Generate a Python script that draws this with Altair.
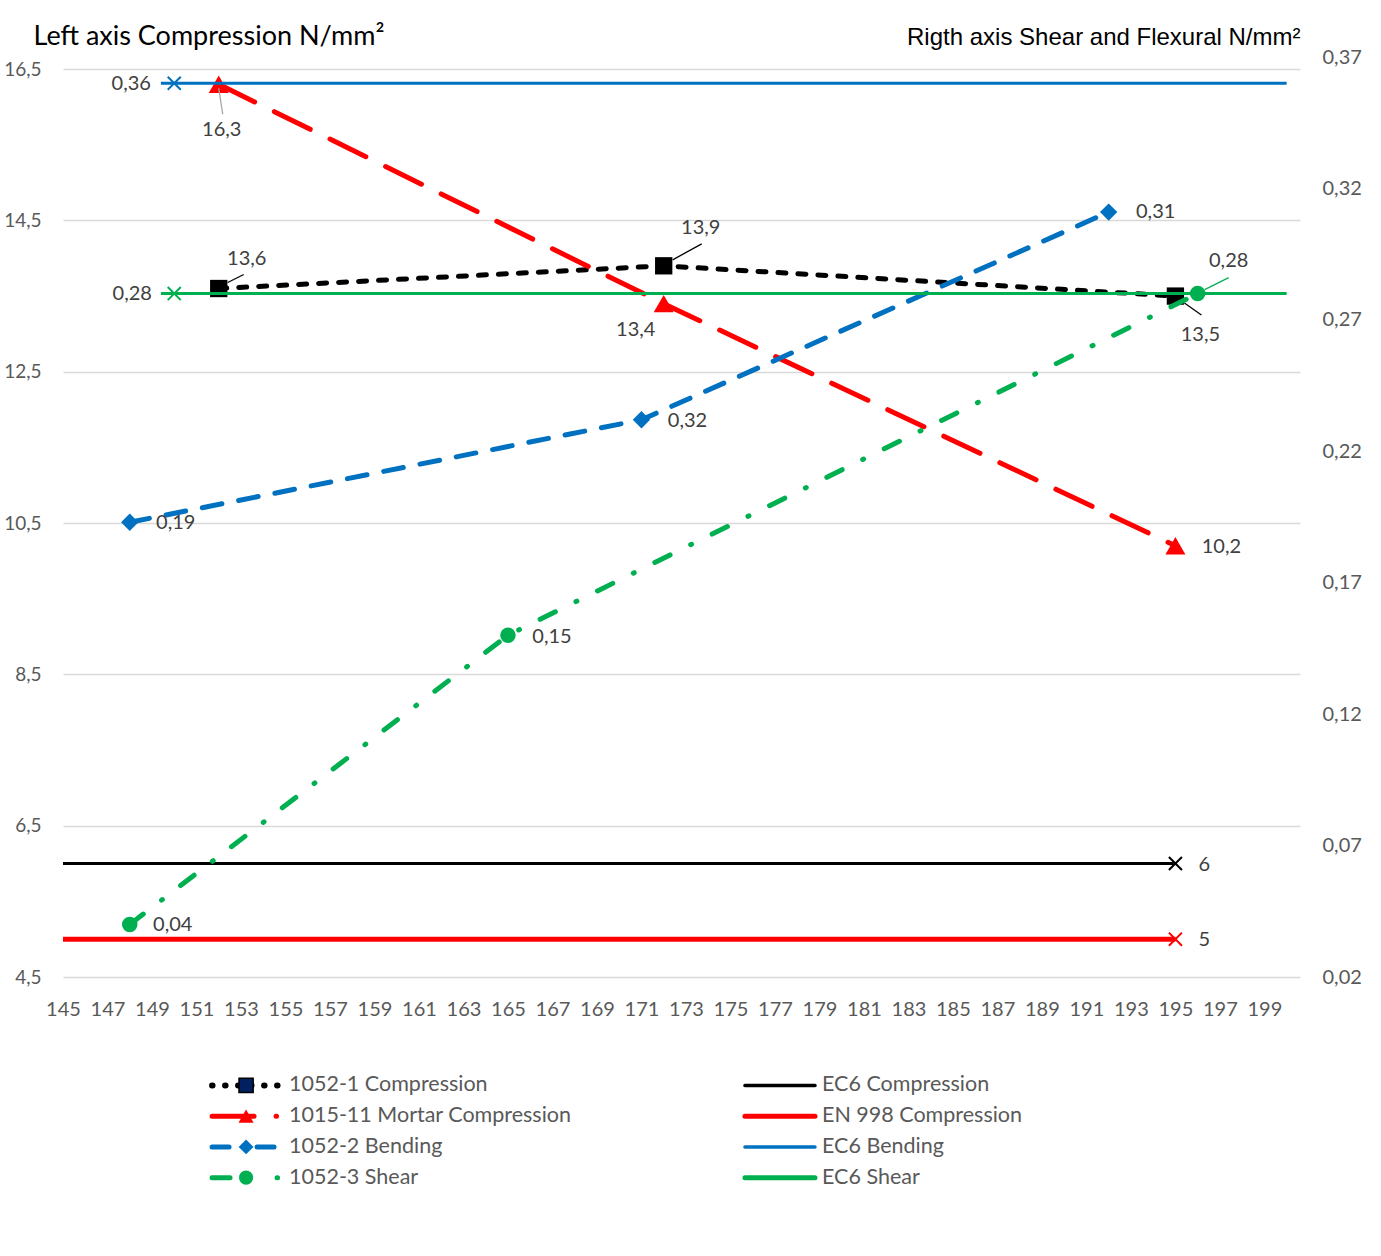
import altair as alt
import pandas as pd

# ---------------- data ----------------
x_ticks = list(range(145, 200, 2))
left_ticks = [4.5, 6.5, 8.5, 10.5, 12.5, 14.5, 16.5]
right_ticks = [0.02, 0.07, 0.12, 0.17, 0.22, 0.27, 0.32, 0.37]

# left axis series (Compression, N/mm2)
c1_x = [152, 172, 195]
c1_y = [13.6, 13.9, 13.5]
c1_lbl = ["13,6", "13,9", "13,5"]

m11_x = [152, 172, 195]
m11_y = [16.3, 13.4, 10.2]
m11_lbl = ["16,3", "13,4", "10,2"]

ec6c_x = [145, 195]
ec6c_y = [6, 6]
ec6c_lbl = ["", "6"]

en998_x = [145, 195]
en998_y = [5, 5]
en998_lbl = ["", "5"]

# right axis series (Shear and Flexural, N/mm2)
b2_x = [148, 171, 192]
b2_y = [0.193, 0.232, 0.311]
b2_lbl = ["0,19", "0,32", "0,31"]

s3_x = [148, 165, 196]
s3_y = [0.040, 0.150, 0.280]
s3_lbl = ["0,04", "0,15", "0,28"]

ec6b_x = [149.4, 200]
ec6b_y = [0.36, 0.36]
ec6b_mx = [150]
ec6b_my = [0.36]
ec6b_lbl = ["0,36"]

ec6s_x = [149.4, 200]
ec6s_y = [0.28, 0.28]
ec6s_mx = [150]
ec6s_my = [0.28]
ec6s_lbl = ["0,28"]

legend_names = [
    "1052-1 Compression", "1015-11 Mortar Compression", "1052-2 Bending", "1052-3 Shear",
    "EC6 Compression", "EN 998 Compression", "EC6 Bending", "EC6 Shear",
]

# ---------------- styles ----------------
FONT = "Lato"
BLACK = "#000000"
RED = "#FF0000"
BLUE = "#0070C0"
GREEN = "#00B050"
XSHAPE = "M-1,-1L1,1M-1,1L1,-1"
W, H = 1237, 920

LABEL_EXPR_L = "replace(format(datum.value, '.1f'), '.', ',')"
LABEL_EXPR_R = "replace(format(datum.value, '.2f'), '.', ',')"

XENC = alt.X(
    "x:Q",
    scale=alt.Scale(domain=[145, 200.6], nice=False, zero=False),
    axis=alt.Axis(values=x_ticks, grid=False, domain=False, ticks=False,
                  labelFont=FONT, labelFontSize=20, labelColor="#595959",
                  labelPadding=22, title=None, labelFlush=False, labelOverlap=False),
)
YL = alt.Y(
    "y:Q",
    scale=alt.Scale(domain=[4.5, 16.66], nice=False, zero=False),
    axis=alt.Axis(values=left_ticks, grid=True, gridColor="#d9d9d9", gridWidth=1.5,
                  domain=False, ticks=False, labelExpr=LABEL_EXPR_L,
                  labelFont=FONT, labelFontSize=19, labelColor="#595959", labelPadding=22,
                  title="Left axis Compression N/mm²", titleAngle=0, titleAlign="left",
                  titleBaseline="middle", titleX=-30, titleY=-21, titleFont=FONT,
                  titleFontSize=27, titleFontWeight="normal", titleColor="#000000",
                  orient="left"),
)
YR = alt.Y(
    "y:Q",
    scale=alt.Scale(domain=[0.02, 0.37], nice=False, zero=False),
    axis=alt.Axis(values=right_ticks, grid=False, domain=False, ticks=False,
                  labelExpr=LABEL_EXPR_R, labelFont=FONT, labelFontSize=20,
                  labelColor="#595959", labelPadding=22,
                  title="Rigth axis Shear and Flexural N/mm²", titleAngle=0,
                  titleAlign="right", titleBaseline="middle", titleX=0, titleY=-20,
                  titleFont="Liberation Sans", titleFontSize=24, titleFontWeight="normal",
                  titleColor="#000000", orient="right"),
)


def frame(xs, ys, lbls=None):
    d = pd.DataFrame({"x": xs, "y": ys})
    if lbls is not None:
        d["lbl"] = lbls
    return d


def line(d, y, **kw):
    return alt.Chart(d).mark_line(**kw).encode(x=XENC, y=y)


def pts(d, y, **kw):
    return alt.Chart(d).mark_point(opacity=1, **kw).encode(x=XENC, y=y)


def label(d, y, i, dx, dy):
    return alt.Chart(d.iloc[[i]]).mark_text(
        dx=dx, dy=dy, fontSize=20, font=FONT, color="#404040",
        align="center", baseline="middle",
    ).encode(x=XENC, y=y, text="lbl:N")


def leader(d, y, i, o, color):
    return alt.Chart(d.iloc[[i]]).mark_rule(
        color=color, strokeWidth=1.3,
        xOffset=o[0], yOffset=o[1], x2Offset=o[2], y2Offset=o[3],
    ).encode(x=XENC, y=y, x2=alt.X2("x"), y2=alt.Y2("y"))


c1 = frame(c1_x, c1_y, c1_lbl)
m11 = frame(m11_x, m11_y, m11_lbl)
ec6c = frame(ec6c_x, ec6c_y, ec6c_lbl)
en998 = frame(en998_x, en998_y, en998_lbl)
b2 = frame(b2_x, b2_y, b2_lbl)
s3 = frame(s3_x, s3_y, s3_lbl)
ec6b = frame(ec6b_x, ec6b_y)
ec6b_m = frame(ec6b_mx, ec6b_my, ec6b_lbl)
ec6s = frame(ec6s_x, ec6s_y)
ec6s_m = frame(ec6s_mx, ec6s_my, ec6s_lbl)

left_layers = [
    line(ec6c, YL, color=BLACK, strokeWidth=3),
    line(en998, YL, color=RED, strokeWidth=5),
    pts(ec6c.iloc[[1]], YL, shape=XSHAPE, filled=False, color=BLACK, strokeWidth=2, size=170),
    pts(en998.iloc[[1]], YL, shape=XSHAPE, filled=False, color=RED, strokeWidth=2, size=170),
    line(c1, YL, color=BLACK, strokeWidth=5, strokeDash=[8, 12], strokeCap="round"),
    pts(c1, YL, shape="square", filled=True, color=BLACK, size=300),
    line(m11, YL, color=RED, strokeWidth=5, strokeDash=[40, 22], strokeCap="round"),
    pts(m11, YL, shape="triangle-up", filled=True, color=RED, size=400),
    leader(c1, YL, 0, (9, -6, 25, -14), BLACK),
    leader(c1, YL, 1, (9, -6, 38, -22), BLACK),
    leader(c1, YL, 2, (9, 7, 26, 19), BLACK),
    leader(m11, YL, 0, (0, 4, 4, 30), "#a6a6a6"),
    label(c1, YL, 0, 28, -30),
    label(c1, YL, 1, 37, -38),
    label(c1, YL, 2, 25, 39),
    label(m11, YL, 0, 3, 46),
    label(m11, YL, 1, -28, 26),
    label(m11, YL, 2, 46, 1),
    label(ec6c, YL, 1, 29, 1),
    label(en998, YL, 1, 29, 1),
]

right_layers = [
    line(b2, YR, color=BLUE, strokeWidth=5, strokeDash=[20, 17], strokeCap="round"),
    pts(b2, YR, shape="diamond", filled=True, color=BLUE, size=300),
    line(s3, YR, color=GREEN, strokeWidth=5, strokeDash=[17, 23, 1, 23], strokeCap="round"),
    pts(s3, YR, shape="circle", filled=True, color=GREEN, size=240),
    line(ec6b, YR, color=BLUE, strokeWidth=3),
    pts(ec6b_m, YR, shape=XSHAPE, filled=False, color=BLUE, strokeWidth=2, size=170),
    line(ec6s, YR, color=GREEN, strokeWidth=3),
    pts(ec6s_m, YR, shape=XSHAPE, filled=False, color=GREEN, strokeWidth=2, size=170),
    leader(s3, YR, 2, (7, -4, 31, -16), GREEN),
    label(b2, YR, 0, 46, 1),
    label(b2, YR, 1, 46, 1),
    label(b2, YR, 2, 47, 0),
    label(s3, YR, 0, 43, 1),
    label(s3, YR, 1, 44, 2),
    label(s3, YR, 2, 31, -33),
    label(ec6b_m, YR, 0, -43, 1),
    label(ec6s_m, YR, 0, -42, 0),
]

main = alt.layer(alt.layer(*left_layers), alt.layer(*right_layers)).resolve_scale(
    y="independent"
).properties(width=W, height=H)

# ---------------- legend panel ----------------
LX = alt.X("x:Q", scale=alt.Scale(domain=[0, 1], nice=False, zero=False), axis=None)
LY = alt.Y("row:Q", scale=alt.Scale(domain=[3.5, -0.5], nice=False, zero=False), axis=None)

col_line = [(0.1205, 0.1754), (0.5513, 0.6079)]
col_mark = [0.148, None]
col_text = [0.1827, 0.6136]

leg_line_styles = [
    dict(color=BLACK, strokeWidth=6, strokeDash=[0.5, 12.5], strokeCap="round"),
    dict(color=RED, strokeWidth=5, strokeDash=[42, 22, 0.5, 10], strokeCap="round"),
    dict(color=BLUE, strokeWidth=5, strokeDash=[17, 28], strokeCap="round"),
    dict(color=GREEN, strokeWidth=5, strokeDash=[18, 47, 0.5, 10], strokeCap="round"),
    dict(color=BLACK, strokeWidth=3.5, strokeCap="round"),
    dict(color=RED, strokeWidth=5, strokeCap="round"),
    dict(color=BLUE, strokeWidth=3.5, strokeCap="round"),
    dict(color=GREEN, strokeWidth=5, strokeCap="round"),
]
leg_mark_styles = [
    dict(shape="square", filled=True, fill="#002060", stroke=BLACK, strokeWidth=1.5, size=200),
    dict(shape="triangle-up", filled=True, color=RED, size=230),
    dict(shape="diamond", filled=True, color=BLUE, size=220),
    dict(shape="circle", filled=True, color=GREEN, size=200),
]

leg_layers = []
for k, name in enumerate(legend_names):
    col, row = divmod(k, 4)
    x0, x1 = col_line[col]
    ld = pd.DataFrame({"x": [x0, x1], "row": [row, row]})
    leg_layers.append(alt.Chart(ld).mark_line(**leg_line_styles[k]).encode(x=LX, y=LY))
    if col == 0:
        md = pd.DataFrame({"x": [col_mark[0]], "row": [row]})
        leg_layers.append(
            alt.Chart(md).mark_point(opacity=1, **leg_mark_styles[k]).encode(x=LX, y=LY)
        )
    td = pd.DataFrame({"x": [col_text[col]], "row": [row], "name": [name]})
    leg_layers.append(
        alt.Chart(td).mark_text(align="left", baseline="middle", fontSize=21.5, font=FONT,
                                color="#595959").encode(x=LX, y=LY, text="name:N")
    )

legend = alt.layer(*leg_layers).properties(width=W, height=123)

chart = alt.vconcat(main, legend, spacing=51).properties(
    padding={"left": 3, "top": 22, "right": 5, "bottom": 5},
    background="white",
).configure_view(stroke=None)

chart.save("out.html", embed_options={"renderer": "svg", "actions": False})
